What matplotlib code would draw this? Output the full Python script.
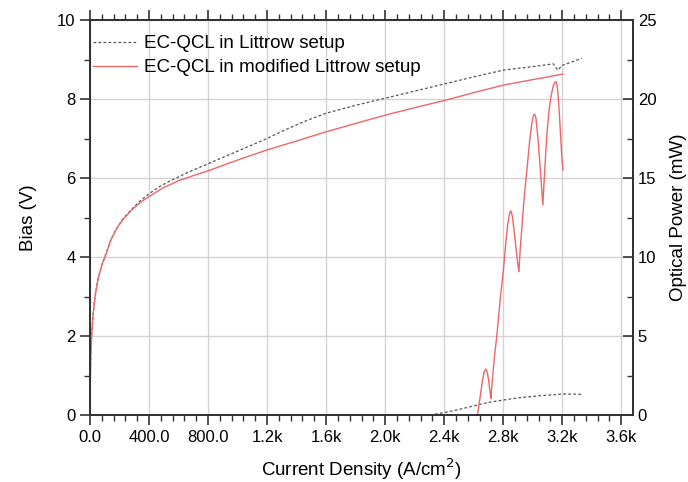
import matplotlib
matplotlib.use("Agg")
import matplotlib.pyplot as plt

plt.rcParams['font.family'] = ['Liberation Sans', 'DejaVu Sans']

# --- data ---
# bias vs current density, Littrow setup (grey dashed)
j_bias_littrow = [0, 2, 5, 11, 20, 34, 55, 80, 100, 140, 180, 220, 280, 340, 400, 470,
                  529, 650, 800, 1000, 1200, 1300, 1420, 1500, 1600, 1800, 2000, 2200,
                  2400, 2600, 2800, 3000, 3140, 3170, 3200, 3333]
v_bias_littrow = [0, 0.8, 1.5, 2.0, 2.5, 3.0, 3.45, 3.8, 4.0, 4.42, 4.72, 4.95, 5.2, 5.42, 5.6, 5.78,
                  5.9, 6.12, 6.36, 6.68, 7.0, 7.18, 7.38, 7.5, 7.64, 7.84, 8.02, 8.2,
                  8.38, 8.56, 8.73, 8.82, 8.89, 8.73, 8.85, 9.03]

# bias vs current density, modified Littrow setup (red)
j_bias_mod = [0, 2, 5, 11, 20, 34, 55, 80, 102, 140, 180, 224, 280, 340, 400, 500,
              600, 700, 800, 915, 1050, 1200, 1420, 1600, 1800, 2000, 2200, 2400,
              2600, 2800, 3000, 3205]
v_bias_mod = [0, 0.8, 1.5, 2.0, 2.5, 3.0, 3.45, 3.8, 4.0, 4.42, 4.72, 4.95, 5.18, 5.38, 5.53, 5.76,
              5.93, 6.06, 6.18, 6.34, 6.52, 6.71, 6.96, 7.17, 7.38, 7.59, 7.78, 7.96,
              8.16, 8.35, 8.49, 8.63]

# optical power, Littrow setup
j_pow_littrow = [2305, 2400, 2500, 2626, 2700, 2802, 2915, 3050, 3210, 3333]
p_pow_littrow = [0, 0.15, 0.35, 0.63, 0.8, 0.95, 1.1, 1.22, 1.33, 1.31]

# optical power, modified Littrow setup
j_pow_mod = [2626, 2645, 2660, 2672, 2683, 2693, 2703, 2712, 2717, 2725, 2740, 2757,
             2780, 2802, 2818, 2830, 2842, 2852, 2862, 2875, 2890, 2900, 2907, 2915,
             2930, 2945, 2961, 2980, 2995, 3005, 3013, 3022, 3035, 3050, 3062, 3069,
             3080, 3095, 3110, 3125, 3140, 3150, 3159, 3168, 3178, 3188, 3197, 3205]
p_pow_mod = [0, 1.2, 2.2, 2.75, 2.91, 2.7, 2.1, 1.4, 1.05, 2.0, 3.6, 5.0,
             7.3, 9.2, 10.9, 12.0, 12.7, 12.93, 12.6, 11.6, 10.3, 9.5, 9.07, 10.4,
             12.3, 14.0, 15.5, 17.4, 18.5, 18.95, 19.05, 18.8, 17.6, 15.8, 14.2, 13.29,
             15.2, 17.6, 19.2, 20.2, 20.85, 21.05, 21.1, 20.7, 19.5, 17.9, 16.4, 15.5]

x_ticks = [0, 400, 800, 1200, 1600, 2000, 2400, 2800, 3200, 3600]
x_tick_labels = ['0.0', '400.0', '800.0', '1.2k', '1.6k', '2.0k', '2.4k', '2.8k', '3.2k', '3.6k']
bias_ticks = [0, 2, 4, 6, 8, 10]
power_ticks = [0, 5, 10, 15, 20, 25]

label_littrow = 'EC-QCL in Littrow setup'
label_mod = 'EC-QCL in modified Littrow setup'

grey = '#555555'
red = '#EE6666'

fig = plt.figure(figsize=(6.88, 4.82), dpi=100)
ax = fig.add_axes([90 / 688, 1 - 415 / 482, (633 - 90) / 688, (415 - 20) / 482])
ax2 = ax.twinx()

ax.plot(j_bias_littrow, v_bias_littrow, color=grey, lw=0.9, dashes=(2.2, 1.8), label=label_littrow)
ax.plot(j_bias_mod, v_bias_mod, color=red, lw=1.0, label=label_mod)
ax2.plot(j_pow_littrow, p_pow_littrow, color=grey, lw=0.9, dashes=(2.2, 1.8))
ax2.plot(j_pow_mod, p_pow_mod, color=red, lw=1.0)

ax.set_xlim(0, 3680)
ax.set_ylim(0, 10)
ax2.set_ylim(0, 25)

ax.set_xticks(x_ticks)
ax.set_xticklabels(x_tick_labels)
ax.set_xticks([t + 80 * k for t in x_ticks[:-1] for k in range(1, 5)], minor=True)
ax.set_yticks(bias_ticks)
ax.set_yticks([b + 1 for b in bias_ticks[:-1]], minor=True)
ax2.set_yticks(power_ticks)
ax2.set_yticks([p + 2.5 for p in power_ticks[:-1]], minor=True)

ax.grid(True, which='major', color='#d4d4d4', lw=1.0)
ax.set_axisbelow(True)

ax.tick_params(axis='both', which='major', labelsize=12, length=7, width=1.2, direction='out',
               top=True, color='#333333')
ax.tick_params(axis='both', which='minor', length=4, width=1.0, direction='out', top=True,
               color='#333333')
ax.tick_params(axis='x', pad=4)
ax2.tick_params(axis='y', which='major', labelsize=12, length=7, width=1.2, direction='in',
                color='#333333')
ax2.tick_params(axis='y', which='minor', length=4, width=1.0, direction='in', color='#333333')

for a in (ax, ax2):
    for s in a.spines.values():
        s.set_linewidth(1.4)
        s.set_color('#333333')

ax.set_xlabel('Current Density (A/cm$^2$)', fontsize=13.5, labelpad=8)
ax.set_ylabel('Bias (V)', fontsize=13.5, labelpad=14)
ax2.set_ylabel('Optical Power (mW)', fontsize=13.5, labelpad=10)

ax.legend(loc='upper left', frameon=False, fontsize=13.5, handlelength=2.35,
          handletextpad=0.35, labelspacing=0.35, borderaxespad=0.1,
          bbox_to_anchor=(-0.011, 0.985))

fig.savefig('out.png', dpi=100)
